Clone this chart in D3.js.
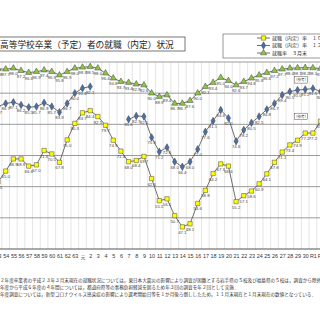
<!DOCTYPE html>
<html><head><meta charset="utf-8">
<script src="https://cdn.jsdelivr.net/npm/d3@7"></script>
<style>html,body{margin:0;padding:0;background:#fff;overflow:hidden}</style>
</head><body>
<svg id="c" width="320" height="320"></svg>
<script>
const categories = ["53","54","55","56","57","58","59","60","61","62","63","元",
  "2","3","4","5","6","7","8","9","10","11","12","13","14","15","16","17","18","19","20",
  "21","22","23","24","25","26","27","28","29","30","R1","R2"];
const octRate = [61.5,65.0,68.9,68.9,66.6,67.0,71.6,70.5,67.8,75.0,80.3,
  83.7,84.4,82.5,79.7,74.9,71.4,68.0,68.4,69.7,62.6,
  55.5,56.1,50.7,47.1,48.1,54.6,58.8,64.2,67.3,66.6,
  55.2,57.1,58.6,60.9,64.1,67.8,71.1,73.4,74.9,77.2,
  77.2,81.0];
const decRate = [85.7,86.7,87.1,86.2,85.5,85.7,86.9,85.7,83.9,86.7,90.0,
  91.6,92.1,null,null,null,null,81.6,82.7,82.5,75.8,
  71.2,72.6,68.0,66.4,68.0,72.0,77.6,81.1,84.6,82.0,
  74.6,78.2,80.5,82.5,84.8,86.7,89.4,90.5,91.0,91.2,
  91.5,90.5];
const marRate = [97.8,97.7,98.0,97.2,96.6,96.9,97.4,96.9,95.8,96.9,98.0,
  98.3,98.5,98.0,96.4,94.8,93.7,93.4,92.9,92.6,90.0,
  88.9,89.4,86.7,86.7,87.6,90.0,92.1,93.4,95.0,94.0,
  92.6,93.7,94.8,95.8,96.6,97.2,97.7,98.0,98.1,98.2,
  98.1,97.9];
const yTicks = [40,50,60,70,80,90,100];
const seriesNames = ["就職（内定）率　１０月末","就職（内定）率　１２月末","就職率　３月末"];
const titleText = "高等学校卒業（予定）者の就職（内定）状況";
const notes = [
  "※平成２２年度卒業者の平成２３年３月末現在の就職状況については，東日本大震災の影響により調査が困難とする岩手県の５校及び福島県の５校は，調査から除外．",
  "※平成３年度から平成６年度の４年間については，都道府県等の事務負担軽減を図るため年３回の調査を年２回として実施．",
  "※令和２年度調査については，新型コロナウイルス感染症の影響により選考開始日等を１か月後ろ倒ししたため，１１月末現在と１月末現在の数値となっている．"
];
const refLabel = "（参考）";

const svg = d3.select("#c");
const x = d3.scalePoint().domain(categories).range([-1.98, 320.58]);
const step = x.step();
const y = d3.scaleLinear().domain([40,100]).range([249,62]);
const jp = "'Noto Sans CJK JP', sans-serif";
const num = "'Liberation Sans', Arial, sans-serif";

// vertical grid at category boundaries
const g = svg.append("g");
g.selectAll("line.v").data(categories).join("line")
  .attr("x1", d => x(d) - step/2).attr("x2", d => x(d) - step/2)
  .attr("y1", y(100)).attr("y2", y(40))
  .attr("stroke", "#d4d4d4").attr("stroke-width", 0.6);
// horizontal grid
g.selectAll("line.h").data(yTicks).join("line")
  .attr("x1", -10).attr("x2", 330)
  .attr("y1", d => y(d)).attr("y2", d => y(d))
  .attr("stroke", d => d === 40 ? "#555" : "#9a9a9a").attr("stroke-width", 1);

// x axis labels
const xAxis = d3.axisBottom(x).tickSize(0).tickPadding(5);
const ax = svg.append("g").attr("transform", `translate(0,${y(40)})`).call(xAxis);
ax.select(".domain").remove();
ax.selectAll("text").attr("font-family", num).attr("font-size", 5.4).attr("fill", "#333")
  .filter(d => d === "元").attr("font-family", jp).attr("font-size", 4.6).attr("dy", "1.0em");

// series
const series = [
  {vals: decRate, shape: "diamond", fill: "#4a6fa5"},
  {vals: octRate, shape: "square", fill: "#ffff00"},
  {vals: marRate, shape: "triangle", fill: "#8dc63f"}
];
const symType = {square: d3.symbolSquare, diamond: d3.symbolDiamond, triangle: d3.symbolTriangle};
const symSize = {square: 19, diamond: 16, triangle: 17};
const line = d3.line().defined(d => d.v != null).x(d => x(d.c)).y(d => y(d.v));

series.forEach(s => {
  const pts = categories.map((c,i) => ({c, v: s.vals[i]}));
  svg.append("path").datum(pts).attr("d", line)
    .attr("fill", "none").attr("stroke", "#4d4d4d").attr("stroke-width", 0.8);
  const valid = pts.filter(d => d.v != null);
  svg.append("g").selectAll("path").data(valid).join("path")
    .attr("transform", d => `translate(${x(d.c)},${y(d.v)})`)
    .attr("d", d3.symbol().type(symType[s.shape]).size(symSize[s.shape]))
    .attr("fill", s.fill).attr("stroke", "#444").attr("stroke-width", 0.5);
  svg.append("g").selectAll("text").data(valid).join("text")
    .attr("x", d => x(d.c)).attr("y", d => y(d.v) + 7)
    .attr("text-anchor", "middle").attr("font-family", num).attr("font-size", 4.3)
    .attr("fill", "#444").text(d => d.v.toFixed(1));
});

// reference boxes for last category
const lastCat = categories[categories.length - 1];
[{arr: decRate, off: 15}, {arr: octRate, off: 8}].forEach(o => {
  const v = o.arr[o.arr.length - 1];
  const bx = x(lastCat) - 26, by = y(v) - o.off;
  svg.append("rect").attr("x", bx).attr("y", by).attr("width", 13).attr("height", 6.5)
    .attr("fill", "#fff").attr("stroke", "#555").attr("stroke-width", 0.5);
  svg.append("text").attr("x", bx + 6.5).attr("y", by + 4.8).attr("text-anchor", "middle")
    .attr("font-family", jp).attr("font-size", 3.6).attr("fill", "#333").text(refLabel);
});

// title box
svg.append("rect").attr("x", -20).attr("y", 37).attr("width", 205).attr("height", 14)
  .attr("fill", "#fff").attr("stroke", "#555").attr("stroke-width", 0.8);
svg.append("text").attr("x", 0).attr("y", 47.5).attr("font-family", jp).attr("font-size", 8.7)
  .attr("fill", "#222").text(titleText);

// legend
const lg = svg.append("g");
lg.append("rect").attr("x", 223).attr("y", 34).attr("width", 110).attr("height", 24)
  .attr("fill", "#fff").attr("stroke", "#555").attr("stroke-width", 0.6);
const legendOrder = [
  {name: seriesNames[0], s: series[1]},
  {name: seriesNames[1], s: series[0]},
  {name: seriesNames[2], s: series[2]}
];
legendOrder.forEach((e,i) => {
  const ly = 38 + i * 7.5;
  lg.append("line").attr("x1", 257).attr("x2", 270).attr("y1", ly).attr("y2", ly)
    .attr("stroke", "#4d4d4d").attr("stroke-width", 0.8);
  lg.append("path").attr("transform", `translate(263.5,${ly})`)
    .attr("d", d3.symbol().type(symType[e.s.shape]).size(symSize[e.s.shape]))
    .attr("fill", e.s.fill).attr("stroke", "#444").attr("stroke-width", 0.5);
  lg.append("text").attr("x", 272).attr("y", ly + 1.8).attr("font-family", jp)
    .attr("font-size", 5).attr("fill", "#333").text(e.name);
});

// footnotes
notes.forEach((t,i) => {
  svg.append("text").attr("x", -18.4).attr("y", 282 + i * 6.8).attr("font-family", jp)
    .attr("font-size", 4.6).attr("fill", "#333").text(t);
});
</script>
</body></html>
